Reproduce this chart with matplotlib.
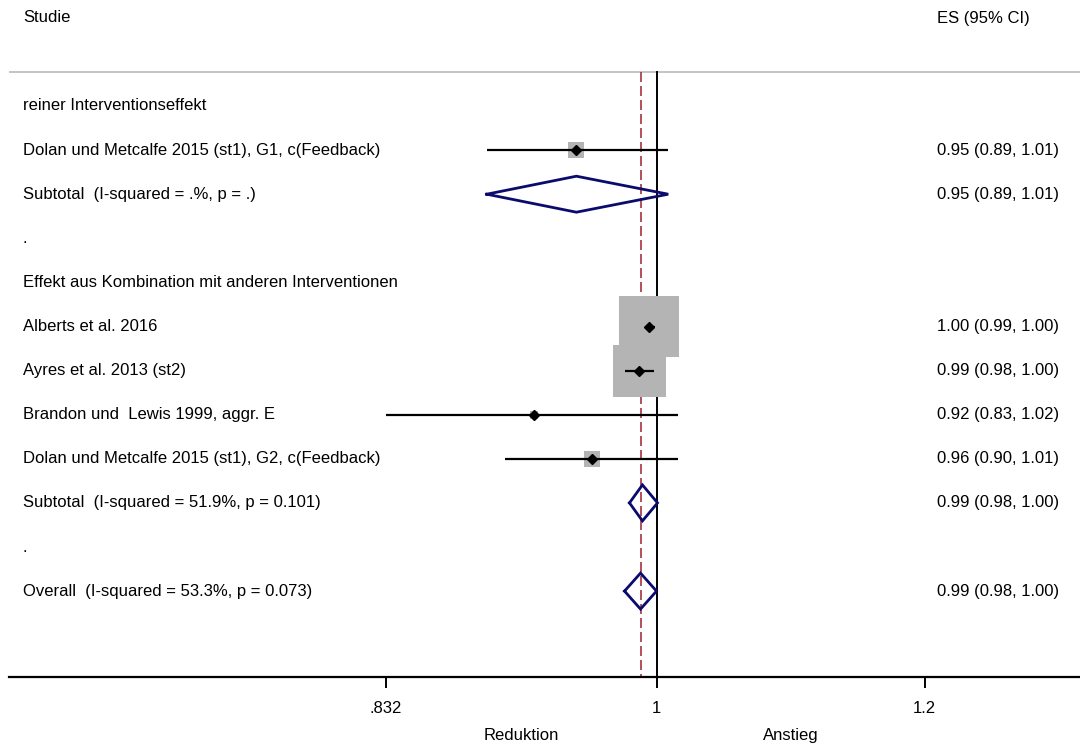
import numpy as np
import matplotlib
matplotlib.use("Agg")
import matplotlib.pyplot as plt
from matplotlib.transforms import blended_transform_factory

# ---------------- data ----------------
group_titles = ["reiner Interventionseffekt",
                "Effekt aus Kombination mit anderen Interventionen"]
study_labels = ["Dolan und Metcalfe 2015 (st1), G1, c(Feedback)",
                "Alberts et al. 2016",
                "Ayres et al. 2013 (st2)",
                "Brandon und  Lewis 1999, aggr. E",
                "Dolan und Metcalfe 2015 (st1), G2, c(Feedback)"]
study_group = [0, 1, 1, 1, 1]
study_es = [0.947, 0.995, 0.9885, 0.920, 0.957]
study_lo = [0.891, 0.993, 0.979, 0.832, 0.902]
study_hi = [1.008, 0.999, 0.998, 1.015, 1.015]
study_weight = [3.7, 52.3, 39.3, 0.9, 3.7]
study_text = ["0.95 (0.89, 1.01)", "1.00 (0.99, 1.00)", "0.99 (0.98, 1.00)",
              "0.92 (0.83, 1.02)", "0.96 (0.90, 1.01)"]

subtotal_labels = ["Subtotal  (I-squared = .%, p = .)",
                   "Subtotal  (I-squared = 51.9%, p = 0.101)"]
subtotal_es = [0.947, 0.9905]
subtotal_lo = [0.891, 0.9818]
subtotal_hi = [1.008, 1.0007]
subtotal_text = ["0.95 (0.89, 1.01)", "0.99 (0.98, 1.00)"]

overall_label = "Overall  (I-squared = 53.3%, p = 0.073)"
overall_es = 0.9892
overall_lo = 0.9785
overall_hi = 1.000
overall_text = "0.99 (0.98, 1.00)"

xticks = [0.832, 1.0, 1.2]
xtick_labels = [".832", "1", "1.2"]
header_left = "Studie"
header_right = "ES (95% CI)"
side_labels = ["Reduktion", "Anstieg"]

# ---------------- figure ----------------
W, H = 1080, 746
fig = plt.figure(figsize=(W / 100, H / 100), dpi=100)
plt.rcParams['font.family'] = ['Liberation Sans', 'DejaVu Sans']
FS = 12

axis_px = 677
ax = fig.add_axes([0, (H - axis_px) / H, 1, axis_px / H])
ax.set_xscale('log')
k = 1471.0      # pixels per log unit
x1_px = 656.5   # pixel of x = 1
ax.set_xlim(np.exp((0 - x1_px) / k), np.exp((W - x1_px) / k))
row0_px, row_step = 106.0, 44.1
ax.set_ylim((axis_px - row0_px) / row_step, -row0_px / row_step)

for s in ['top', 'left', 'right']:
    ax.spines[s].set_visible(False)
ax.spines['bottom'].set_linewidth(1.6)
ax.spines['bottom'].set_bounds(np.exp((9 - x1_px) / k), ax.get_xlim()[1])
ax.set_yticks([])
ax.set_xticks(xticks)
ax.set_xticklabels(xtick_labels, fontsize=FS)
ax.xaxis.set_minor_locator(matplotlib.ticker.NullLocator())
ax.tick_params(axis='x', length=8, width=1.4, pad=9, direction='out')

trans_text = blended_transform_factory(ax.transAxes, ax.transData)
xl = 23 / W
xr = 937 / W

# row layout
rows = []  # (kind, index)
rows.append(('title', 0))
for i, g in enumerate(study_group):
    if g == 0:
        rows.append(('study', i))
rows.append(('sub', 0))
rows.append(('dot', None))
rows.append(('title', 1))
for i, g in enumerate(study_group):
    if g == 1:
        rows.append(('study', i))
rows.append(('sub', 1))
rows.append(('dot', None))
rows.append(('overall', None))

top_line_y = (72 - row0_px) / row_step
ybot = ax.get_ylim()[0]
header_y = (18 - row0_px) / row_step

# header and separator
ax.text(xl, header_y, header_left, transform=trans_text, fontsize=FS, va='center', ha='left')
ax.text(xr, header_y, header_right, transform=trans_text, fontsize=FS, va='center', ha='left')
ax.plot([9 / W, 1], [top_line_y, top_line_y], transform=trans_text, color='#bfbfbf', lw=1.3,
        solid_capstyle='butt', clip_on=False)

# reference lines
ax.plot([1, 1], [top_line_y, ybot], color='black', lw=1.4, zorder=2)
ax.plot([overall_es, overall_es], [top_line_y, ybot], color='#a33440', lw=1.2,
        ls=(0, (6, 2.4)), zorder=2)

diam_h = 18 / row_step
box_c = 8.3  # px per sqrt(weight)

def diamond(es, lo, hi, y):
    ax.plot([lo, es, hi, es, lo], [y, y - diam_h, y, y + diam_h, y],
            color='#0b0b6e', lw=2.0, zorder=4, solid_joinstyle='miter')

for r, (kind, idx) in enumerate(rows):
    y = r
    if kind == 'title':
        ax.text(xl, y, group_titles[idx], transform=trans_text, fontsize=FS, va='center')
    elif kind == 'dot':
        ax.text(xl, y, ".", transform=trans_text, fontsize=FS, va='center')
    elif kind == 'study':
        ax.text(xl, y, study_labels[idx], transform=trans_text, fontsize=FS, va='center')
        ax.text(xr, y, study_text[idx], transform=trans_text, fontsize=FS, va='center')
        side_px = box_c * np.sqrt(study_weight[idx])
        ax.scatter([study_es[idx]], [y], s=(side_px * 0.72) ** 2, marker='s',
                   color='#b4b4b4', edgecolors='none', zorder=3)
        ax.plot([study_lo[idx], study_hi[idx]], [y, y], color='black', lw=1.6, zorder=4,
                solid_capstyle='butt')
        ax.plot([study_es[idx]], [y], marker='D', ms=5, color='black', zorder=5)
    elif kind == 'sub':
        ax.text(xl, y, subtotal_labels[idx], transform=trans_text, fontsize=FS, va='center')
        ax.text(xr, y, subtotal_text[idx], transform=trans_text, fontsize=FS, va='center')
        diamond(subtotal_es[idx], subtotal_lo[idx], subtotal_hi[idx], y)
    elif kind == 'overall':
        ax.text(xl, y, overall_label, transform=trans_text, fontsize=FS, va='center')
        ax.text(xr, y, overall_text, transform=trans_text, fontsize=FS, va='center')
        diamond(overall_es, overall_lo, overall_hi, y)

# side labels below axis
lab_y = (740 - row0_px) / row_step
left_mid = np.sqrt(xticks[0] * xticks[1])
right_mid = np.sqrt(xticks[1] * xticks[2])
ax.text(left_mid, lab_y, side_labels[0], fontsize=FS, ha='center', va='baseline', clip_on=False)
ax.text(right_mid, lab_y, side_labels[1], fontsize=FS, ha='center', va='baseline', clip_on=False)

fig.savefig("out.png", dpi=100, facecolor='white')
